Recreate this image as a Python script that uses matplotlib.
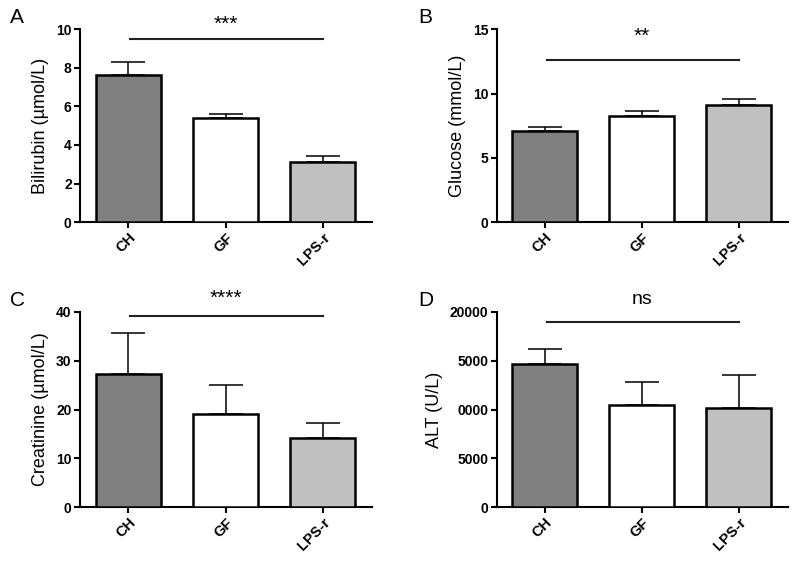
import matplotlib
matplotlib.use('Agg')
import matplotlib.pyplot as plt

plt.rcParams['font.family'] = ['Liberation Sans', 'DejaVu Sans']

groups = ['CH', 'GF', 'LPS-r']
colors = ['#808080', '#ffffff', '#c0c0c0']

bilirubin = [7.62, 5.39, 3.12]
bilirubin_err = [0.69, 0.22, 0.32]
glucose = [7.05, 8.22, 9.10]
glucose_err = [0.31, 0.44, 0.49]
creatinine = [27.25, 19.0, 14.2]
creatinine_err = [8.45, 6.05, 3.1]
alt = [14690, 10500, 10120]
alt_err = [1540, 2300, 3400]

panels = [
    # letter, values, errors, ylabel, ymax, ticks, ticklabels, sig text, sig y, text y
    ('A', bilirubin, bilirubin_err, 'Bilirubin (µmol/L)', 10,
     [0, 2, 4, 6, 8, 10], ['0', '2', '4', '6', '8', '10'], '***', 9.48, 10.25),
    ('B', glucose, glucose_err, 'Glucose (mmol/L)', 15,
     [0, 5, 10, 15], ['0', '5', '10', '15'], '**', 12.6, 14.45),
    ('C', creatinine, creatinine_err, 'Creatinine (µmol/L)', 40,
     [0, 10, 20, 30, 40], ['0', '10', '20', '30', '40'], '****', 39.2, 42.7),
    ('D', alt, alt_err, 'ALT (U/L)', 20000,
     [0, 5000, 10000, 15000, 20000], ['0', '5000', '0000', '5000', '20000'], 'ns', 18980, 21300),
]

positions = [
    [0.100, 0.604, 0.365, 0.344],
    [0.621, 0.604, 0.364, 0.344],
    [0.100, 0.096, 0.365, 0.348],
    [0.621, 0.096, 0.364, 0.348],
]
letter_pos = [(0.012, 0.985), (0.523, 0.985), (0.012, 0.482), (0.523, 0.482)]

fig = plt.figure(figsize=(8, 5.61), dpi=100)

for (letter, vals, errs, ylabel, ymax, ticks, tlabels, sig, sig_y, txt_y), pos, lp in zip(panels, positions, letter_pos):
    ax = fig.add_axes(pos)
    x = range(len(groups))
    ax.bar(x, vals, width=0.67, color=colors, edgecolor='black', linewidth=1.8, zorder=3)
    ax.errorbar(x, vals, yerr=[[0] * 3, errs], fmt='none', ecolor='black',
                elinewidth=1.1, capsize=12, capthick=1.1, zorder=2)
    ax.set_xlim(-0.495, 2.505)
    ax.set_ylim(0, ymax)
    ax.set_yticks(ticks)
    ax.set_yticklabels(tlabels, fontweight='bold', fontsize=10)
    ax.set_xticks(list(x))
    ax.set_xticklabels(groups, rotation=45, ha='right', rotation_mode='anchor',
                       fontweight='bold', fontsize=10.5)
    ax.set_ylabel(ylabel, fontsize=13, labelpad=5)
    for s in ['top', 'right']:
        ax.spines[s].set_visible(False)
    for s in ['left', 'bottom']:
        ax.spines[s].set_linewidth(1.5)
    ax.tick_params(width=1.5, length=4, pad=2)
    # significance bar
    ax.plot([0.02, 2.0], [sig_y, sig_y], color='#222222', linewidth=1.5, clip_on=False)
    if sig == 'ns':
        ax.text(1.0, txt_y, sig, ha='center', va='center', fontsize=14, clip_on=False)
    else:
        ax.text(1.0, txt_y, sig, ha='center', va='center', fontsize=15, clip_on=False)
    fig.text(lp[0], lp[1], letter, fontsize=15, ha='left', va='top')

fig.savefig('out.png', dpi=100)
